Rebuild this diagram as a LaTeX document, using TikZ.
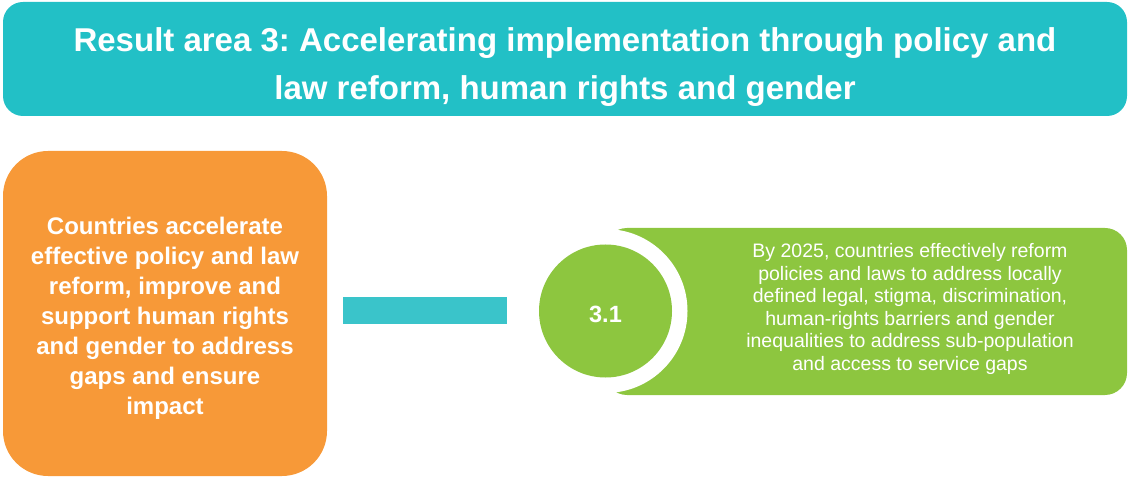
\documentclass[tikz,border=0pt]{standalone}
\usepackage{fontspec}
\setmainfont{Liberation Sans}
\frenchspacing
\definecolor{topteal}{RGB}{34,192,198}
\definecolor{barteal}{RGB}{58,196,202}
\definecolor{orangebox}{RGB}{247,153,56}
\definecolor{greenbox}{RGB}{141,198,63}
\tikzset{
  titlebox/.style={fill=topteal, rounded corners=20pt, minimum width=1124pt, minimum height=114pt, inner sep=0pt},
  titletext/.style={text=white, align=center, inner sep=0pt, font=\bfseries\fontsize{33}{48}\selectfont},
  goalbox/.style={fill=orangebox, rounded corners=45pt, minimum width=324pt, minimum height=325pt, inner sep=0pt},
  goaltext/.style={text=white, align=center, inner sep=0pt, font=\bfseries\fontsize{24}{30}\selectfont},
  outbox/.style={fill=greenbox, rounded corners=22pt, minimum width=522pt, minimum height=167pt, inner sep=0pt},
  ringcut/.style={circle, fill=white, minimum size=164pt, inner sep=0pt},
  numcircle/.style={circle, fill=greenbox, minimum size=133pt, inner sep=0pt},
  numtext/.style={text=white, inner sep=0pt, font=\bfseries\fontsize{23.5}{28}\selectfont},
  outtext/.style={text=white, align=center, inner sep=0pt, font=\fontsize{19.5}{22.5}\selectfont},
  linkbar/.style={draw=barteal, line width=27pt}
}
\begin{document}
\begin{tikzpicture}[x=1pt,y=-1pt]
\useasboundingbox (0,0) rectangle (1130,478);
\node[titlebox] (title) at (565,59) {};
\node[titletext] (titletxt) at (565,67) {Result area 3: Accelerating implementation through policy and\\law reform, human rights and gender};
\node[goalbox] (goal) at (165,313.5) {};
\node[goaltext] (goaltxt) at (165,318) {Countries accelerate\\effective policy and law\\reform, improve and\\support human rights\\and gender to address\\gaps and ensure\\impact};
\node[outbox] (out) at (866,311.5) {};
\node[ringcut] (ring) at (605.5,311) {};
\node[numcircle] (num) at (605.5,311) {};
\node[numtext] (numtxt) at (605.5,314) {3.1};
\node[outtext] (outtxt) at (910,309) {By 2025, countries effectively reform\\policies and laws to address locally\\defined legal, stigma, discrimination,\\human-rights barriers and gender\\inequalities to address sub-population\\and access to service gaps};
\draw[linkbar] ([xshift=16pt]goal.east |- num.center) -- ([xshift=-32pt]num.west);
\end{tikzpicture}
\end{document}
